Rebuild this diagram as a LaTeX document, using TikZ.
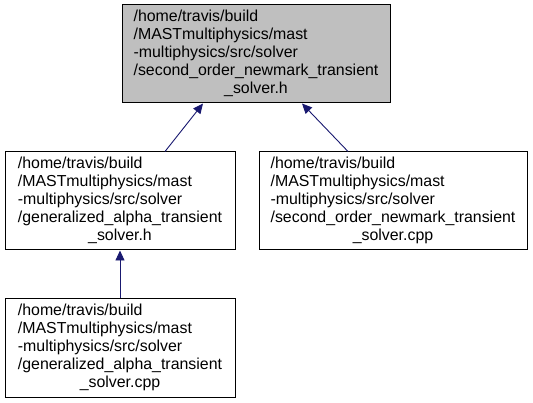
\documentclass[tikz,border=0pt]{standalone}
\usepackage{fontspec}
\setmainfont{Liberation Sans}
\usetikzlibrary{arrows.meta,calc}
\definecolor{edgeblue}{HTML}{191970}
\definecolor{boxgray}{HTML}{BFBFBF}
\newcommand{\flines}[5]{\begin{tabular}{@{}l@{}}#1\\#2\\#3\\#4\\\multicolumn{1}{@{}c@{}}{#5}\end{tabular}}
\begin{document}
\begin{tikzpicture}[x=1pt,y=-1pt,
  filebox/.style={draw=black,line width=1pt,inner sep=0pt,minimum height=98pt,
    font=\fontsize{15.9}{18}\selectfont},
  dep/.style={draw=edgeblue,line width=0.9pt,{Triangle[length=10pt,width=9pt]}-}]
\useasboundingbox (0,0) rectangle (533,403);
\renewcommand{\arraystretch}{1}
\node[filebox,fill=boxgray,minimum width=268pt] (top) at (256,54)
  {\flines{/home/travis/build}{/MASTmultiphysics/mast}{-multiphysics/src/solver}{/second\_order\_newmark\_transient}{\_solver.h}};
\node[filebox,minimum width=230pt] (ml) at (120,201)
  {\flines{/home/travis/build}{/MASTmultiphysics/mast}{-multiphysics/src/solver}{/generalized\_alpha\_transient}{\_solver.h}};
\node[filebox,minimum width=268pt] (mr) at (393,201)
  {\flines{/home/travis/build}{/MASTmultiphysics/mast}{-multiphysics/src/solver}{/second\_order\_newmark\_transient}{\_solver.cpp}};
\node[filebox,minimum width=230pt] (bot) at (120,348)
  {\flines{/home/travis/build}{/MASTmultiphysics/mast}{-multiphysics/src/solver}{/generalized\_alpha\_transient}{\_solver.cpp}};
\draw[dep] ($(top.south)+(-53,0)$) -- ($(ml.north)+(45,0)$);
\draw[dep] ($(top.south)+(46,0)$) -- ($(mr.north)+(-45,0)$);
\draw[dep] (ml.south) -- (bot.north);
\end{tikzpicture}
\end{document}
